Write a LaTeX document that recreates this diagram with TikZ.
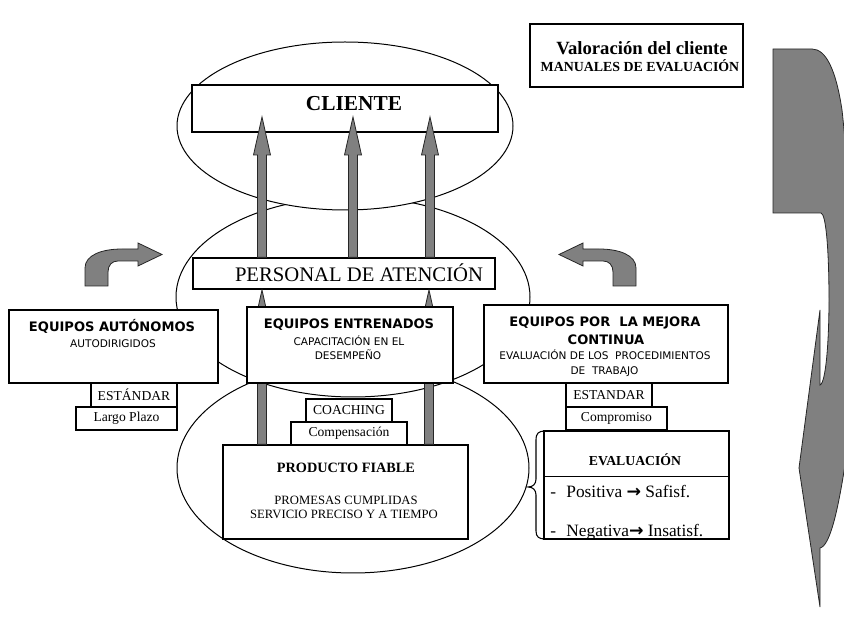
\documentclass[tikz,border=0pt]{standalone}
\usepackage{fontspec}
\setmainfont{Liberation Serif}
\newfontfamily\comic{DejaVu Sans}
\usetikzlibrary{calc}
\definecolor{arrgray}{RGB}{128,128,128}
\tikzset{
  box/.style={draw, line width=0.9pt, fill=white, inner sep=0pt, rectangle},
  lbl/.style={inner sep=0pt, anchor=base},
  oval/.style={draw, line width=0.75pt, fill=white},
  garr/.style={fill=arrgray, draw=black!85, line width=0.6pt, line join=miter},
  ctitle/.style={lbl, font=\comic\bfseries\fontsize{9.8}{11}\selectfont},
  csub/.style={lbl, font=\comic\fontsize{7.9}{9}\selectfont},
  smallbox/.style={box, font=\fontsize{10.2}{12}\selectfont},
}
% name, x1, y1, x2, y2
\newcommand\bxc[5]{\node[box, minimum width={(#4-#2)*0.75pt}, minimum height={(#5-#3)*0.75pt}] (#1) at ({(#2+#4)/2},{(#3+#5)/2}) {};}
% name, x1, y1, x2, y2, text
\newcommand\bxt[6]{\node[smallbox, minimum width={(#4-#2)*0.75pt}, minimum height={(#5-#3)*0.75pt}] (#1) at ({(#2+#4)/2},{(#3+#5)/2}) {#6};}
% base coordinate, tip coordinate
\newcommand\garrow[2]{\filldraw[garr] ($(#1)+(-4.5,0)$) -- ($(#2)+(-4.5,38)$) -- ($(#2)+(-8.5,38)$) -- (#2) -- ($(#2)+(8.5,38)$) -- ($(#2)+(4.5,38)$) -- ($(#1)+(4.5,0)$) -- cycle;}
\newcommand\rarr{{\comic\bfseries →}}
\begin{document}
\begin{tikzpicture}[x=0.75pt,y=-0.75pt]
\useasboundingbox (0,0) rectangle (844,627);
\clip (0,0) rectangle (844,627);

% ellipses
\draw[oval] (353,468) ellipse [x radius=132pt, y radius=78.75pt];
\draw[oval] (353,297) ellipse [x radius=132.75pt, y radius=75pt];
\draw[oval] (345,126) ellipse [x radius=126pt, y radius=63pt];

% CLIENTE
\bxc{cliente}{192}{85}{498}{132}
\node[lbl, font=\bfseries\fontsize{16}{18}\selectfont] (clientetxt) at (354,111) {CLIENTE};

% PERSONAL DE ATENCION
\bxc{personal}{193}{258}{495}{289}
\node[lbl, font=\fontsize{15.5}{18}\selectfont] (personaltxt) at (359,282) {PERSONAL DE ATENCIÓN};

% upper arrows
\coordinate (ta) at (262,117);
\coordinate (tb) at (353,117);
\coordinate (tc) at (430,117);
\coordinate (ba) at (ta |- personal.north);
\coordinate (bb) at (tb |- personal.north);
\coordinate (bc) at (tc |- personal.north);
\garrow{ba}{ta}
\garrow{bb}{tb}
\garrow{bc}{tc}

% PRODUCTO FIABLE
\bxc{producto}{223}{445}{468}{539}
\node[lbl, font=\bfseries\fontsize{10.7}{12}\selectfont] (prodtitle) at (346,473) {PRODUCTO FIABLE};
\node[lbl, font=\fontsize{9.5}{11}\selectfont] (prod1) at (346,505) {PROMESAS CUMPLIDAS};
\node[lbl, font=\fontsize{9.5}{11}\selectfont] (prod2) at (344,519) {SERVICIO PRECISO Y A TIEMPO};

% lower arrows
\coordinate (td) at (262,290);
\coordinate (te) at (429,290);
\coordinate (bd) at (td |- producto.north);
\coordinate (be) at (te |- producto.north);
\garrow{bd}{td}
\garrow{be}{te}

% EQUIPOS ENTRENADOS
\bxc{entrenados}{247}{307}{453}{383}
\node[ctitle] (entt) at (349,329) {EQUIPOS ENTRENADOS};
\node[csub] (ents1) at (349,346) {CAPACITACIÓN EN EL};
\node[csub] (ents2) at (348,360) {DESEMPEÑO};
\bxt{coaching}{306}{399}{392}{422}{COACHING}
\bxt{compens}{291}{422}{407}{445}{Compensación}

% EQUIPOS AUTONOMOS
\bxc{autonomos}{9}{310}{218}{383}
\node[ctitle] (autt) at (112,332) {EQUIPOS AUTÓNOMOS};
\node[csub] (auts) at (113,348) {AUTODIRIGIDOS};
\bxt{estandar}{91}{383}{177}{407}{ESTÁNDAR}
\bxt{largo}{76}{407}{177}{430}{Largo Plazo}

% EQUIPOS POR LA MEJORA CONTINUA
\bxc{mejora}{484}{305}{728}{383}
\node[ctitle] (mej1) at (605,327) {EQUIPOS POR\ \ LA MEJORA};
\node[ctitle] (mej2) at (606,345) {CONTINUA};
\node[csub] (mej3) at (605,360) {EVALUACIÓN DE LOS\ \ PROCEDIMIENTOS};
\node[csub] (mej4) at (604.5,375) {DE\ \ TRABAJO};
\bxt{estandar2}{566}{383}{652}{407}{ESTANDAR}
\bxt{compromiso}{566}{407}{667}{430}{Compromiso}

% EVALUACION
\bxc{eval}{544}{431}{729}{539}
\draw[line width=0.9pt] ($(eval.north west)+(0,46)$) -- ($(eval.north east)+(0,46)$);
\node[lbl, font=\bfseries\fontsize{10.3}{12}\selectfont] (evalt) at (635,466) {EVALUACIÓN};
\begin{scope}
\clip (eval.south west) rectangle (eval.north east);
\node[lbl, anchor=base west, font=\fontsize{13}{15}\selectfont] (pos) at (550,498) {-\hspace{0.6em}Positiva \rarr{} Safisf.};
\node[lbl, anchor=base west, font=\fontsize{13}{15}\selectfont] (neg) at (550,537) {-\hspace{0.6em}Negativa\rarr{} Insatisf.};
\end{scope}
\draw[line width=0.9pt] (eval.south west) rectangle (eval.north east);
\draw[line width=0.8pt] (545,431) .. controls (539,431) and (536,433) .. (536,440) -- (536,479) .. controls (536,484) and (533,487) .. (528,487) .. controls (533,487) and (536,490) .. (536,495) -- (536,531) .. controls (536,537) and (539,539) .. (545,539);

% Valoracion del cliente
\bxc{valoracion}{530}{24}{743}{87}
\node[lbl, font=\bfseries\fontsize{14}{16}\selectfont] (val1) at (642,55) {Valoración del cliente};
\node[lbl, font=\bfseries\fontsize{10.4}{12}\selectfont] (val2) at (640,72) {MANUALES DE EVALUACIÓN};

% curved arrows
\filldraw[garr] (85,286) -- (85,268) .. controls (85,255) and (102,249) .. (122,249) -- (138,249) -- (138,243) -- (162,254.5) -- (138,266) -- (138,261) -- (118,261) .. controls (112,261) and (108,265) .. (108,272) -- (108,286) -- cycle;
\filldraw[garr] (636,286) -- (636,268) .. controls (636,255) and (619,249) .. (599,249) -- (583,249) -- (583,243) -- (559,254.5) -- (583,266) -- (583,261) -- (603,261) .. controls (609,261) and (613,265) .. (613,272) -- (613,286) -- cycle;

% big curved arrow at the right
\filldraw[garr] (773,49) -- (812,49) .. controls (826,49) and (836,70) .. (842,110) .. controls (852,200) and (860,380) .. (845,465) .. controls (838,510) and (830,546) .. (820,548) -- (820,607) -- (799,468) -- (820,310) -- (820,385) .. controls (826,383) and (829,340) .. (829,300) .. controls (829,250) and (826,214) .. (821,213) -- (773,213) -- cycle;
\end{tikzpicture}
\end{document}
